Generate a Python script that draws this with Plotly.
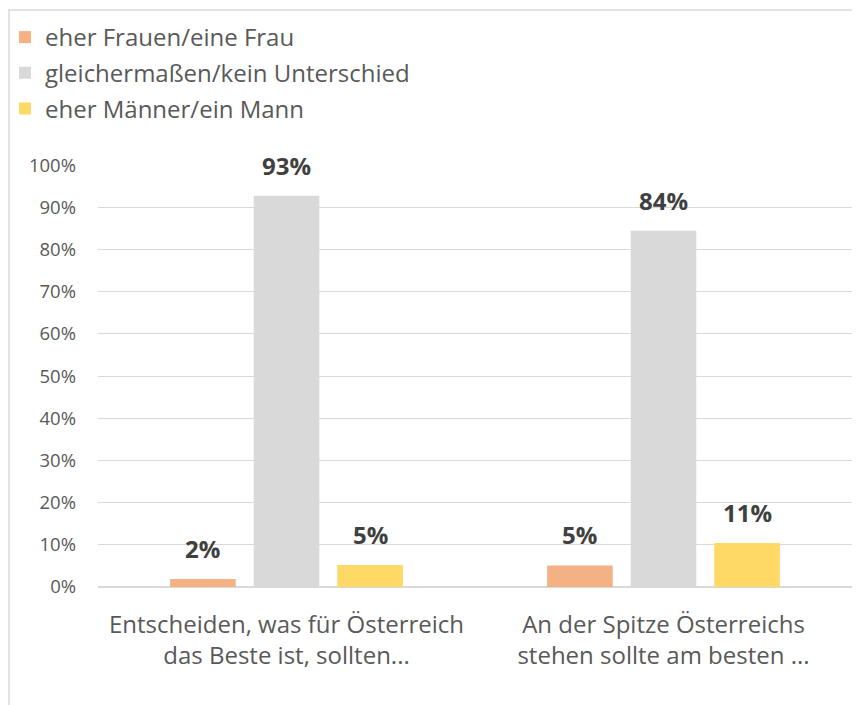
import plotly.graph_objects as go

categories = ["Entscheiden, was für Österreich<br>das Beste ist, sollten...",
              "An der Spitze Österreichs<br>stehen sollte am besten ..."]
series_names = ["eher Frauen/eine Frau", "gleichermaßen/kein Unterschied", "eher Männer/ein Mann"]
frauen = [1.9, 5.1]
gleich = [92.7, 84.4]
maenner = [5.2, 10.4]
frauen_labels = ["2%", "5%"]
gleich_labels = ["93%", "84%"]
maenner_labels = ["5%", "11%"]
colors = ["#F4B183", "#D9D9D9", "#FFD966"]
tick_vals = [0, 10, 20, 30, 40, 50, 60, 70, 80, 90, 100]
tick_text = ["0%", "10%", "20%", "30%", "40%", "50%", "60%", "70%", "80%", "90%", "100%"]

FONT = "Open Sans, Noto Sans, sans-serif"
W, H = 860, 705
# page body has an 8px margin; figure coordinates below are relative to the figure
ML, MR, MT, MB = 90, 16, 157, 126
BARGAP, GROUPGAP = 0.335, 0.215
plot_w = W - ML - MR
plot_h = H - MT - MB

fig = go.Figure()
series = [frauen, gleich, maenner]
labels_all = [frauen_labels, gleich_labels, maenner_labels]
for name, vals, col in zip(series_names, series, colors):
    fig.add_trace(go.Bar(
        x=categories, y=vals, name=name,
        marker=dict(color=col, line=dict(width=0)),
        legendgroup=name, hoverinfo="x+y+name",
    ))

# data labels as annotations above each bar
cat_px = plot_w / len(categories)
slot_px = cat_px * (1 - BARGAP) / len(series)
annotations = []
for si, (vals, labs) in enumerate(zip(series, labels_all)):
    offset = (si - (len(series) - 1) / 2) * slot_px
    for ci, (v, lab) in enumerate(zip(vals, labs)):
        annotations.append(dict(
            x=categories[ci], y=v, xref="x", yref="y", text=lab, showarrow=False,
            xanchor="center", yanchor="bottom", xshift=offset, yshift=12,
            font=dict(family=FONT, size=24, color="#404040", weight="bold"),
        ))

fig.update_layout(
    width=W, height=H,
    margin=dict(l=ML, r=MR, t=MT, b=MB, autoexpand=False),
    paper_bgcolor="white", plot_bgcolor="white",
    barmode="group", bargap=BARGAP, bargroupgap=GROUPGAP,
    font=dict(family=FONT, color="#595959"),
    showlegend=True,
    legend=dict(
        xref="paper", yref="paper",
        x=(-3 - ML) / plot_w, y=(H - MB - 7) / plot_h,
        xanchor="left", yanchor="top", orientation="v",
        font=dict(family=FONT, size=24, color="#595959"),
        tracegroupgap=1.5, bgcolor="rgba(0,0,0,0)",
    ),
    xaxis=dict(
        showgrid=False, showline=False, ticks="", tickangle=0, automargin=False,
        tickfont=dict(family=FONT, size=24, color="#595959"),
        ticklabelstandoff=21,
    ),
    yaxis=dict(
        range=[0, 100.01], tickvals=tick_vals, ticktext=tick_text, automargin=False,
        showgrid=True, gridcolor="#D9D9D9", gridwidth=1.3,
        zeroline=True, zerolinecolor="#D9D9D9", zerolinewidth=1.8,
        showline=False, ticks="",
        tickfont=dict(family=FONT, size=18.5, color="#595959"),
        ticklabelstandoff=21,
    ),
    annotations=annotations,
    shapes=[dict(
        type="rect", xref="paper", yref="paper",
        x0=(1 - ML) / plot_w, x1=(875 - ML) / plot_w,
        y0=(H - MB - 720) / plot_h, y1=(H - MB - 2) / plot_h,
        line=dict(color="#D9D9D9", width=1.5), fillcolor="rgba(0,0,0,0)", layer="below",
    )],
)

fig.write_html("out.html")
